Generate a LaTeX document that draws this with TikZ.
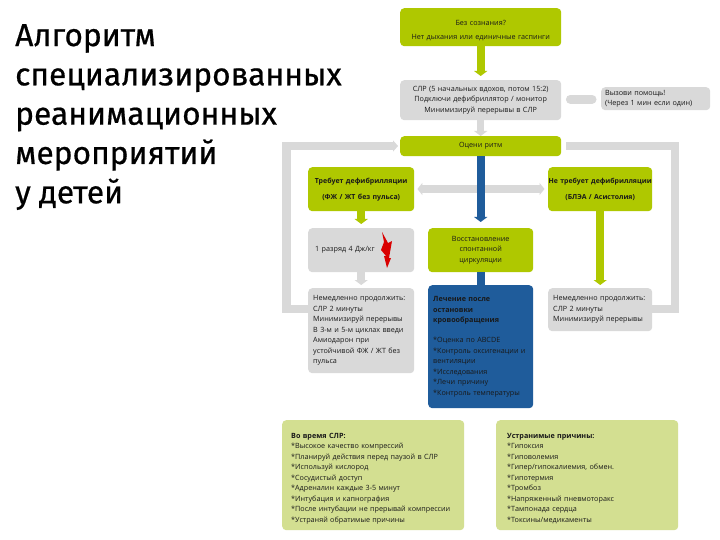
\documentclass[tikz,border=0pt]{standalone}
\usepackage{fontspec}
\setmainfont{Open Sans}
\newfontfamily\titlefont[FakeBold=0.6]{Fira Sans}
\usetikzlibrary{arrows.meta}
\definecolor{lime}{HTML}{AFC800}
\definecolor{pale}{HTML}{D3DF91}
\definecolor{greybox}{HTML}{D9D9D9}
\definecolor{bluebox}{HTML}{1F5C9B}
\tikzset{
  x=1pt,y=-1pt,
  boxbase/.style={rounded corners=4pt,inner sep=0pt,font=\fontsize{7.2}{10.5}\selectfont,text=black!90,anchor=north west},
  limebox/.style={boxbase,fill=lime},
  greyb/.style={boxbase,fill=greybox},
  bluebx/.style={boxbase,fill=bluebox},
  palebox/.style={boxbase,fill=pale},
  limeflow/.style={draw=lime,line width=8pt,-{Triangle[length=5pt,width=13pt]}},
  blueflow/.style={draw=bluebox,line width=8pt,-{Triangle[length=5pt,width=13pt]}},
  greyflow/.style={draw=greybox,line width=8pt,-{Triangle[length=5pt,width=13pt]}},
  greyloop/.style={draw=greybox,line width=8.5pt,line join=miter},
}
\newcommand{\bx}[8]{\node[#1,minimum width=#4pt,minimum height=#5pt,text width=#6pt,align=#8] (#2) at #3 {#7};}
\begin{document}
\begin{tikzpicture}
\useasboundingbox (0,0) rectangle (720,540);
\fill[white] (0,0) rectangle (720,540);
\node[anchor=north west,inner sep=0pt,align=left,font=\titlefont\fontsize{31.7}{39.3}\selectfont] (title) at (15,24) {Алгоритм\\специализированных\\реанимационных\\мероприятий\\у детей};

\bx{limebox}{top}{(400,8)}{161}{38}{161}{\rule{0pt}{11.5pt}Без сознания?\\[4pt]Нет дыхания или единичные гаспинги}{center}
\bx{greyb}{cpr}{(400,80)}{161}{40}{161}{СЛР (5 начальных вдохов, потом 15:2)\\Подключи дефибриллятор / монитор\\Минимизируй перерывы в СЛР}{center}
\bx{greyb}{call}{(601,87)}{109}{23}{101}{Вызови помощь!\\(Через 1 мин если один)}{left}
\bx{limebox}{rhythm}{(400,136)}{161}{20}{161}{Оцени ритм}{center}
\bx{limebox}{shockable}{(308,167)}{106}{44}{106}{\fontsize{7}{10.5}\selectfont\textbf{Требует дефибрилляции}\\[5.5pt]\textbf{(ФЖ / ЖТ без пульса)}\\[2pt]}{center}
\bx{limebox}{nonshock}{(548,167)}{104}{44}{104}{\fontsize{6.9}{10.5}\selectfont\textbf{Не требует дефибрилляции}\\[5.5pt]\textbf{(БЛЭА / Асистолия)}\\[2pt]}{center}
\bx{greyb}{shock}{(308,228)}{106}{44}{92}{1 разряд 4 Дж/кг}{left}
\bx{limebox}{rosc}{(428,228)}{105}{44}{105}{Восстановление\\спонтанной\\циркуляции}{center}
\bx{greyb}{contl}{(308,288)}{106}{85}{96}{Немедленно продолжить:\\СЛР 2 минуты\\Минимизируй перерывы\\В 3-м и 5-м циклах введи\\Амиодарон при\\устойчивой ФЖ / ЖТ без\\пульса}{left}
\bx{bluebx}{post}{(428,285)}{105}{123}{95}{\textbf{Лечение после}\\\textbf{остановки}\\\textbf{кровообращения}\\[9.5pt]{}*Оценка по ABCDE\\{}*Контроль оксигенации и\\вентиляции\\{}*Исследования\\{}*Лечи причину\\{}*Контроль температуры}{left}
\bx{greyb}{contr}{(548,288)}{104}{43}{94}{Немедленно продолжить:\\СЛР 2 минуты\\Минимизируй перерывы}{left}
\bx{palebox}{during}{(282,420)}{182}{110}{164}{\rule{0pt}{11.5pt}\textbf{Во время СЛР:}\\{}*Высокое качество компрессий\\{}*Планируй действия перед паузой в СЛР\\{}*Используй кислород\\{}*Сосудистый доступ\\{}*Адреналин каждые 3-5 минут\\{}*Интубация и капнография\\{}*После интубации не прерывай компрессии\\{}*Устраняй обратимые причины}{left}
\bx{palebox}{causes}{(496,420)}{182}{110}{160}{\rule{0pt}{11.5pt}\textbf{Устранимые причины:}\\{}*Гипоксия\\{}*Гиповолемия\\{}*Гипер/гипокалиемия, обмен.\\{}*Гипотермия\\{}*Тромбоз\\{}*Напряженный пневмоторакс\\{}*Тампонада сердца\\{}*Токсины/медикаменты}{left}

\coordinate (lstart) at ([yshift=-21pt]contl.north west);
\coordinate (lturn1) at (286.5,309);
\coordinate (lturn2) at (286.5,146);
\coordinate (rstart) at ([yshift=-21pt]contr.north east);
\coordinate (rturn1) at (675,309);
\coordinate (rturn2) at (675,146);
\coordinate (dl) at (shockable.east|-0,189);
\coordinate (dr) at (nonshock.west|-0,189);
\coordinate (cprr) at ([yshift=1pt]cpr.east);

\draw[limeflow] (top.south) -- ([yshift=4pt]cpr.north);
\draw[greyflow,line width=7pt] (cpr.south) -- (rhythm.north);
\draw[draw=greybox,line width=9pt,line cap=round,shorten <=9pt,shorten >=9pt] (cprr) -- (call.west|-cprr);
\draw[draw=greybox,line width=8pt,{Triangle[length=5pt,width=12pt]}-{Triangle[length=5pt,width=12pt]},shorten <=3pt,shorten >=3.5pt] (dl) -- (dr);
\draw[blueflow] (rhythm.south) -- ([yshift=6pt]rosc.north);
\draw[draw=bluebox,line width=8pt] (rosc.south) -- (post.north);
\draw[limeflow] (shockable.south) -- ([yshift=4pt]shock.north);
\draw[greyflow] (shock.south) -- ([yshift=3pt]contl.north);
\draw[limeflow] (nonshock.south) -- ([yshift=3pt]contr.north);
\draw[greyloop,-{Triangle[length=5pt,width=11pt]}] (lstart) -- (lturn1) -- (lturn2) -- ([xshift=-2pt]rhythm.west|-lturn2);
\draw[greyloop] (rstart) -- (rturn1) -- (rturn2) -- ([xshift=5pt]rhythm.east|-rturn2);

\fill[red!85!black] (382,232) -- (388,243) -- (392,241) -- (389,258) -- (391,258) -- (387,268) -- (384,256) -- (386,256) -- (381,250) -- (384,242) -- cycle;
\end{tikzpicture}
\end{document}
